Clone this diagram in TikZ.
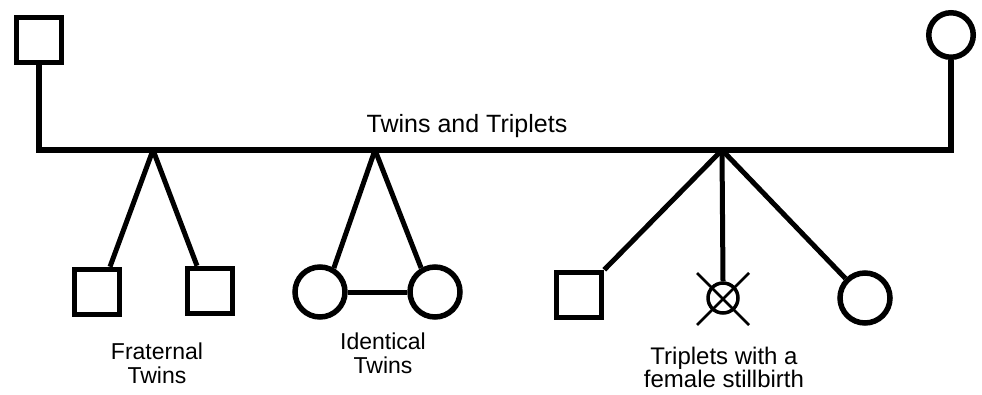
\documentclass[tikz,border=0pt]{standalone}
\usepackage{fontspec}
\setmainfont{Liberation Sans}
\usetikzlibrary{calc}
\begin{document}
\begin{tikzpicture}[x=1pt,y=-1pt,
  male/.style={draw, line width=5.5pt, rectangle, minimum size=45pt, inner sep=0pt},
  female/.style={draw, line width=5.5pt, circle, minimum size=45pt, inner sep=0pt},
  twinf/.style={female, minimum size=50pt},
  still/.style={draw, line width=3.5pt, circle, minimum size=30pt, inner sep=0pt},
  link/.style={line width=5pt, line join=miter},
  cross/.style={line width=2.8pt},
  lbl/.style={align=center, inner sep=0pt, anchor=north, font=\fontsize{23}{23.5}\selectfont},
  ttl/.style={inner sep=0pt, anchor=base, font=\fontsize{25}{28}\selectfont}]
\useasboundingbox (0,0) rectangle (982,394);
% parents
\node[male] (p1) at (39,40) {};
\node[female, minimum size=44.5pt] (p2) at (951,35) {};
\coordinate (hl) at (39,150);
\coordinate (hr) at (951,150);
\draw[link, line width=6pt] (p1.south) -- (hl) -- (hr) -- (p2.south);
\node[ttl] (title) at (467,132) {Twins and Triplets};
% fraternal twins
\coordinate (fA) at (153,150);
\node[male] (fa) at (97,292) {};
\node[male] (fb) at (210,291) {};
\draw[link] (fA) -- ($(fa.north)+(13,0)$);
\draw[link] (fA) -- ($(fb.north)+(-13,0)$);
\node[lbl] (lfrat) at (157,343) {Fraternal\\Twins};
% identical twins
\coordinate (iA) at (375,150);
\node[twinf] (ia) at (320,292) {};
\node[twinf] (ib) at (435,292) {};
\draw[link] (iA) -- (ia.60);
\draw[link] (iA) -- (ib.120);
\draw[link] (ia.east) -- (ib.west);
\node[lbl] (liden) at (383,333) {Identical\\Twins};
% triplets
\coordinate (tA) at (722,150);
\node[male] (ta) at (579,295) {};
\node[still] (sb) at (723,298) {};
\node[twinf] (tc) at (865,298) {};
\draw[link] (tA) -- (ta.north east);
\draw[link] (tA) -- (sb.north);
\draw[link] (tA) -- (tc.135);
\draw[cross] ($(sb)+(-26,-25)$) -- ($(sb)+(26,27)$);
\draw[cross] ($(sb)+(26,-25)$) -- ($(sb)+(-26,27)$);
\node[lbl, font=\fontsize{24}{21}\selectfont] (ltrip) at (724,347) {Triplets with a\\female stillbirth};
\end{tikzpicture}
\end{document}
